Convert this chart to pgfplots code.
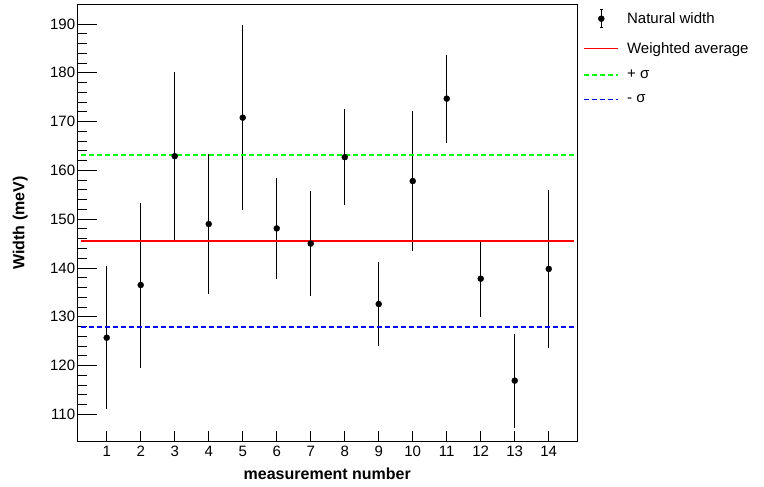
\documentclass[border=0pt]{standalone}
\usepackage{pgfplots}
\pgfplotsset{compat=1.18}
\usepackage{fontspec}
\setmainfont{Liberation Sans}
\pgfplotstableread{
x y e
1 125.7 14.3
2 136.5 16.6
3 162.9 16.9
4 149.0 14.0
5 170.8 18.7
6 148.1 10.1
7 145.0 10.4
8 162.7 9.5
9 132.6 8.3
10 157.8 14.0
11 174.7 8.7
12 137.8 7.6
13 116.9 9.3
14 139.8 15.8
}\meas
\begin{document}
\begin{tikzpicture}
\useasboundingbox (0,0) rectangle (764pt,487pt);
\begin{axis}[
  at={(77.3pt,45.7pt)}, anchor=south west,
  scale only axis, width=500pt, height=436.6pt,
  xmin=0.135, xmax=14.84, ymin=104.47, ymax=193.95,
  xtick={1,...,14}, minor xtick={1,...,14},
  major x tick style={draw=none},
  ytick={110,120,...,190}, minor y tick num=4,
  tick align=inside, xtick pos=bottom, ytick pos=left,
  major tick length=20pt, minor tick length=10pt,
  tick style={black, line width=0.8pt},
  axis line style={line width=0.8pt},
  /pgf/number format/assume math mode=true,
  tick label style={font=\fontsize{15}{18}\selectfont},
  yticklabel style={inner sep=0pt, xshift=-2pt},
  xticklabel style={inner sep=0pt, yshift=-5pt},
  every axis x label/.style={at={(axis description cs:0.5,0)}, yshift=-32pt, anchor=center, font=\bfseries\fontsize{16}{19}\selectfont},
  every axis y label/.style={at={(axis description cs:0,0.5)}, xshift=-57pt, rotate=90, anchor=center, font=\bfseries\fontsize{16}{19}\selectfont},
  xlabel={measurement number}, ylabel={Width (meV)},
  legend cell align=left,
  legend style={at={(axis description cs:1,1)}, anchor=north west, xshift=6pt, yshift=-4pt, draw=none, fill=none, font=\fontsize{15}{18}\selectfont, row sep=13pt, inner sep=0pt, nodes={inner sep=1pt}, /tikz/every odd column/.append style={column sep=7pt}},
  legend image code/.code={\draw[#1] (0pt,0pt) -- (34pt,0pt);},
]
\addplot[black, only marks, mark=*, mark size=3pt,
  error bars/.cd, y dir=both, y explicit,
  error bar style={line width=1.5pt, black},
  error mark options={mark size=1.5pt, line width=1.2pt, black},
  /pgfplots/legend image code/.code={
    \draw[black, line width=1.5pt] (17pt,-9pt) -- (17pt,9pt);
    \draw[black, line width=1.2pt] (15.5pt,-9pt) -- (18.5pt,-9pt);
    \draw[black, line width=1.2pt] (15.5pt,9pt) -- (18.5pt,9pt);
    \fill[black] (17pt,0pt) circle (3pt);}
] table[x=x, y=y, y error=e] {\meas};
\addlegendentry{Natural width}
\addplot[red, line width=1.6pt] coordinates {(0.235,145.5) (14.75,145.5)};
\addlegendentry{Weighted average}
\addplot[green, line width=1.6pt, dash pattern=on 5pt off 3pt] coordinates {(0.235,163.15) (14.75,163.15)};
\addlegendentry{+ σ}
\addplot[blue, line width=1.6pt, dash pattern=on 5pt off 3pt] coordinates {(0.235,127.85) (14.75,127.85)};
\addlegendentry{- σ}
\end{axis}
\end{tikzpicture}
\end{document}
